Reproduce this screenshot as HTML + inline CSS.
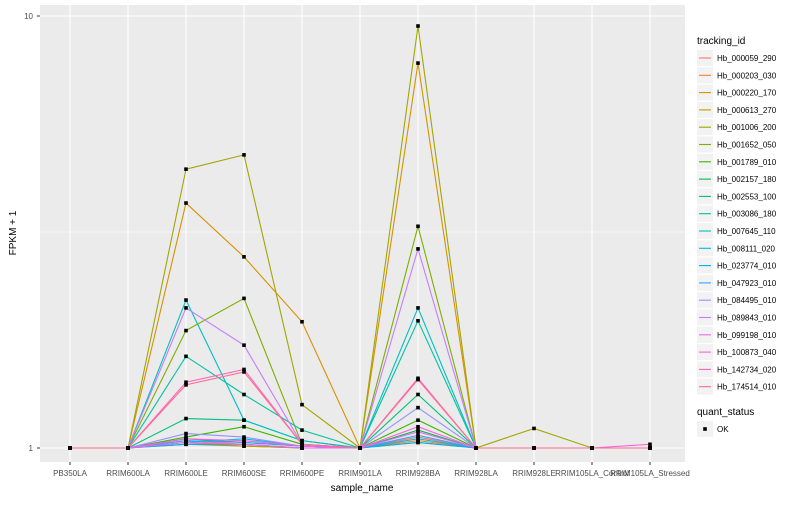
<!DOCTYPE html>
<html><head><meta charset="utf-8">
<style>
body{margin:0;background:#fff;font-family:"Liberation Sans",sans-serif;}
svg text{font-family:"Liberation Sans",sans-serif;}
</style></head>
<body>
<svg id="chart" width="800" height="500" xmlns="http://www.w3.org/2000/svg">
<rect x="0" y="0" width="800" height="500" fill="#fff"/>
<rect x="40" y="5" width="645" height="457" fill="#EBEBEB"/>
<g id="grid"></g>
<g id="lines"></g>
<g id="points"></g>
<g id="axes"></g>
<g id="legend"></g>
</svg>
<script>
const categories=["PB350LA","RRIM600LA","RRIM600LE","RRIM600SE","RRIM600PE","RRIM901LA","RRIM928BA","RRIM928LA","RRIM928LE","RRIM105LA_Control","RRIM105LA_Stressed"];
const seriesNames=["Hb_000059_290","Hb_000203_030","Hb_000220_170","Hb_000613_270","Hb_001006_200","Hb_001652_050","Hb_001789_010","Hb_002157_180","Hb_002553_100","Hb_003086_180","Hb_007645_110","Hb_008111_020","Hb_023774_010","Hb_047923_010","Hb_084495_010","Hb_089843_010","Hb_099198_010","Hb_100873_040","Hb_142734_020","Hb_174514_010"];
const seriesColors=["#F8766D","#EA8331","#D89000","#C09B00","#A3A500","#7CAE00","#39B600","#00BB4E","#00BF7D","#00C1A3","#00BFC4","#00BAE0","#00B0F6","#35A2FF","#9590FF","#C77CFF","#E76BF3","#FA62DB","#FF62BC","#FF6C91"];
const s00=[1,1,1.04,1.02,1,1,1.06,1,1,1,1];
const s01=[1,1,1.03,1.01,1,1,1.04,1,1,1,1];
const s02=[1,1,3.69,2.77,1.96,1,7.78,1,1,1,1];
const s03=[1,1,1.02,1.01,1,1,1.03,1,1,1,1];
const s04=[1,1,4.42,4.77,1.26,1,9.48,1,1.11,1,1];
const s05=[1,1,1.87,2.22,1.02,1,3.26,1,1,1,1];
const s06=[1,1,1.06,1.12,1.02,1,1.16,1,1,1,1];
const s07=[1,1,1.05,1.03,1.01,1,1.10,1,1,1,1];
const s08=[1,1,1.17,1.16,1.04,1,1.33,1,1,1,1];
const s09=[1,1,1.63,1.33,1.10,1,1.97,1,1,1,1];
const s10=[1,1,2.20,1.16,1.04,1,2.11,1,1,1,1];
const s11=[1,1,1.03,1.05,1.01,1,1.05,1,1,1,1];
const s12=[1,1,1.02,1.02,1,1,1.03,1,1,1,1];
const s13=[1,1,1.04,1.03,1.01,1,1.07,1,1,1,1];
const s14=[1,1,1.08,1.06,1.01,1,1.24,1,1,1,1];
const s15=[1,1,2.11,1.73,1.02,1,2.89,1,1,1,1];
const s16=[1,1,1.03,1.02,1,1,1.09,1,1,1,1];
const s17=[1,1,1.05,1.04,1.01,1,1.12,1,1,1,1.02];
const s18=[1,1,1.42,1.52,1.02,1,1.45,1,1,1,1];
const s19=[1,1,1.40,1.50,1.02,1,1.44,1,1,1,1];
const seriesValues=[s00,s01,s02,s03,s04,s05,s06,s07,s08,s09,s10,s11,s12,s13,s14,s15,s16,s17,s18,s19];
const yTickValues=[1,10];
const yTickLabels=["1","10"];

const NS="http://www.w3.org/2000/svg";
function mk(tag,attrs,parent){const e=document.createElementNS(NS,tag);for(const k in attrs)e.setAttribute(k,attrs[k]);parent.appendChild(e);return e;}
function xScale(i){return 70+i*58;}
function yScale(v){return 448-432*Math.log10(v);}
const grid=document.getElementById('grid'),lines=document.getElementById('lines'),pts=document.getElementById('points'),axes=document.getElementById('axes'),leg=document.getElementById('legend');

// minor gridline at sqrt(10)
let mg=mk('line',{x1:40,x2:685,y1:yScale(Math.sqrt(10)),y2:yScale(Math.sqrt(10)),stroke:'#fff','stroke-width':0.6},grid);


yTickValues.forEach((v,i)=>{
  let g=mk('line',{x1:40,x2:685,y1:yScale(v),y2:yScale(v),stroke:'#fff','stroke-width':1.1},grid);
  
  
  let t=mk('text',{x:33,y:yScale(v)+3,'text-anchor':'end','font-size':8,fill:'#4D4D4D'},axes);
  t.textContent=yTickLabels[i];
  
  
  let tk=mk('line',{x1:37,x2:40,y1:yScale(v),y2:yScale(v),stroke:'#333','stroke-width':1},axes);
  
  
});
categories.forEach((c,i)=>{
  let g=mk('line',{x1:xScale(i),x2:xScale(i),y1:5,y2:462,stroke:'#fff','stroke-width':1.1},grid);
  
  
  let tk=mk('line',{x1:xScale(i),x2:xScale(i),y1:462,y2:465,stroke:'#333','stroke-width':1},axes);
  
  
  let t=mk('text',{x:xScale(i),y:476,'text-anchor':'middle','font-size':8,fill:'#4D4D4D'},axes);
  t.textContent=c;
  
  
});
seriesValues.forEach((vals,si)=>{
  let d=vals.map((v,i)=>(i?'L':'M')+xScale(i)+','+yScale(v)).join(' ');
  let p=mk('path',{d:d,fill:'none',stroke:seriesColors[si],'stroke-width':1.1},lines);
  
  
  vals.forEach((v,i)=>{
    let r=mk('rect',{x:xScale(i)-1.8,y:yScale(v)-1.8,width:3.6,height:3.6,fill:'#000'},pts);
    
    
  });
});
let xt=mk('text',{x:362,y:491,'text-anchor':'middle','font-size':10,fill:'#000'},axes);
xt.textContent='sample_name';


let yt=mk('text',{x:0,y:0,'text-anchor':'middle','font-size':10,fill:'#000',transform:'translate(16,233) rotate(-90)'},axes);
yt.textContent='FPKM + 1';



let lt=mk('text',{x:697,y:44,'font-size':10,fill:'#000'},leg);
lt.textContent='tracking_id';


seriesNames.forEach((n,i)=>{
  const y=50+i*17.3;
  let g=mk('g',{},leg);
  
  
  mk('rect',{x:697,y:y,width:16,height:16,fill:'#F2F2F2'},g);
  mk('line',{x1:699,x2:711,y1:y+8,y2:y+8,stroke:seriesColors[i],'stroke-width':1.1},g);
  let t=mk('text',{x:717,y:y+11,'font-size':8,fill:'#000'},g);
  t.textContent=n;
});
let qt=mk('text',{x:697,y:415,'font-size':10,fill:'#000'},leg);
qt.textContent='quant_status';


let qg=mk('g',{},leg);


mk('rect',{x:697,y:421,width:16,height:16,fill:'#F2F2F2'},qg);
mk('rect',{x:703.2,y:427.2,width:3.6,height:3.6,fill:'#000'},qg);
let ok=mk('text',{x:717,y:432,'font-size':8,fill:'#000'},qg);
ok.textContent='OK';
</script>
</body></html>
